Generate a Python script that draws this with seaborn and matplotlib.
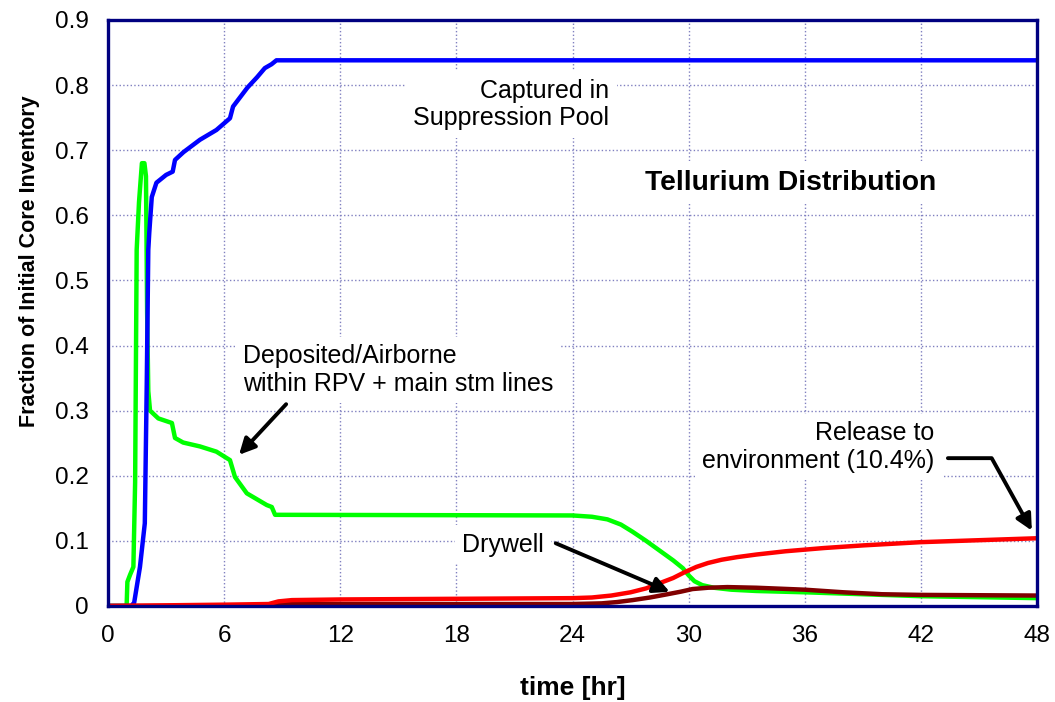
import pandas as pd
import seaborn as sns
import matplotlib.pyplot as plt

# ----------------------------------------
# Data (time in hr, fraction of core inventory)
# ----------------------------------------
pool_t = [0, 1.2, 1.35, 1.65, 1.9, 2.0, 2.08, 2.13, 2.26, 2.5, 3.0, 3.34, 3.46,
          3.9, 4.75, 5.6, 6.3, 6.46, 7.2, 7.7, 8.1, 8.45, 8.7, 48]
pool_v = [0, 0, 0.005, 0.06, 0.127, 0.34, 0.547, 0.573, 0.628, 0.65, 0.662, 0.667,
          0.685, 0.697, 0.716, 0.731, 0.749, 0.767, 0.796, 0.812, 0.826, 0.832,
          0.838, 0.838]

rpv_t = [0, 0.96, 1.0, 1.14, 1.31, 1.4, 1.48, 1.6, 1.75, 1.88, 1.96, 2.02, 2.08,
         2.17, 2.6, 3.3, 3.46, 3.88, 4.75, 5.6, 6.3, 6.56, 7.17, 8.2, 8.46, 8.63,
         24.0, 25.0, 25.8, 26.5, 27.1, 27.8, 28.5, 29.2, 29.7, 30.0, 30.3, 30.7,
         31.3, 32.2, 33.5, 36, 42, 48]
rpv_v = [0, 0, 0.037, 0.048, 0.06, 0.19, 0.547, 0.62, 0.68, 0.68, 0.66, 0.45, 0.33,
         0.30, 0.288, 0.281, 0.258, 0.251, 0.245, 0.237, 0.224, 0.198, 0.173, 0.155,
         0.152, 0.14, 0.139, 0.137, 0.133, 0.125, 0.114, 0.1, 0.085, 0.07, 0.058,
         0.047, 0.038, 0.032, 0.028, 0.025, 0.023, 0.021, 0.015, 0.012]

drywell_t = [0, 8.3, 8.8, 24, 25.5, 26.3, 27.1, 28, 28.9, 29.6, 30.2, 31, 32, 33.5,
             36, 38, 40, 42, 48]
drywell_v = [0, 0, 0.003, 0.003, 0.004, 0.006, 0.009, 0.013, 0.018, 0.022, 0.026,
             0.028, 0.029, 0.028, 0.025, 0.021, 0.018, 0.017, 0.016]

env_t = [0, 6, 8.3, 8.8, 9.5, 12, 18, 24, 25, 26, 27, 27.8, 28.5, 29.2, 29.8, 30.4,
         31, 31.7, 32.5, 33.5, 35, 37, 39, 42, 45, 48]
env_v = [0, 0.002, 0.003, 0.007, 0.009, 0.010, 0.011, 0.012, 0.013, 0.016, 0.021,
         0.027, 0.035, 0.043, 0.052, 0.06, 0.066, 0.071, 0.075, 0.079, 0.084,
         0.089, 0.093, 0.098, 0.101, 0.104]

x_ticks = list(range(0, 49, 6))
y_ticks = [0, 0.1, 0.2, 0.3, 0.4, 0.5, 0.6, 0.7, 0.8, 0.9]
y_labels = ["0", "0.1", "0.2", "0.3", "0.4", "0.5", "0.6", "0.7", "0.8", "0.9"]

series = ["rpv", "pool", "drywell", "env"]
colors = {"rpv": "#00ff00", "pool": "#0000ff", "drywell": "#800000", "env": "#ff0000"}

frames = []
for name, t, v in [("rpv", rpv_t, rpv_v), ("pool", pool_t, pool_v),
                   ("drywell", drywell_t, drywell_v), ("env", env_t, env_v)]:
    frames.append(pd.DataFrame({"time": t, "frac": v, "series": name}))
df = pd.concat(frames, ignore_index=True)

# ----------------------------------------
# Plot
# ----------------------------------------
sns.set_style("white")
plt.rcParams['font.family'] = ['Liberation Sans', 'DejaVu Sans']
plt.rcParams['text.color'] = 'black'
plt.rcParams['axes.labelcolor'] = 'black'

navy = "#000080"
fig = plt.figure(figsize=(10.55, 7.02), dpi=100)
ax = fig.add_axes([0.1024, 0.1368, 0.8806, 0.8348])

sns.lineplot(data=df, x="time", y="frac", hue="series", hue_order=series,
             palette=colors, estimator=None, sort=False, lw=3.2, legend=False, ax=ax)

ax.set_xlim(0, 48)
ax.set_ylim(0, 0.9)
ax.set_xticks(x_ticks)
ax.set_yticks(y_ticks)
ax.set_yticklabels(y_labels)
ax.tick_params(axis="both", direction="out", length=6, width=1.5, color=navy,
               labelsize=17.5, pad=8, labelcolor="black")
ax.grid(True, color="#8080c0", ls=":", lw=1)
ax.set_axisbelow(True)
for sp in ax.spines.values():
    sp.set_color(navy)
    sp.set_linewidth(2.4)
    sp.set_visible(True)

ax.set_xlabel("time [hr]", fontsize=19, fontweight="bold")
ax.set_ylabel("Fraction of Initial Core Inventory", fontsize=15.5, fontweight="bold")
ax.xaxis.set_label_coords(0.5, -0.12)
ax.yaxis.set_label_coords(-0.073, 0.589)

box = dict(boxstyle="square,pad=0.3", fc="white", ec="none")
arrow = dict(arrowstyle="-|>", color="black", lw=2.8, mutation_scale=24)

ax.text(25.9, 0.77, "Captured in\nSuppression Pool", ha="right", va="center",
        fontsize=18, bbox=box, linespacing=1.2)
ax.text(35.25, 0.65, "Tellurium Distribution", ha="center", va="center",
        fontsize=20.3, fontweight="bold", bbox=box)
ax.text(6.95, 0.3625, "Deposited/Airborne\nwithin RPV + main stm lines", ha="left",
        va="center", fontsize=18, bbox=box, linespacing=1.2)
ax.annotate("", xy=(6.67, 0.229), xytext=(9.3, 0.313), arrowprops=arrow)
ax.text(18.3, 0.094, "Drywell", ha="left", va="center", fontsize=18, bbox=box)
ax.annotate("", xy=(29.15, 0.02), xytext=(23.0, 0.098), arrowprops=arrow)
ax.text(42.7, 0.244, "Release to\nenvironment (10.4%)", ha="right", va="center",
        fontsize=18, bbox=box, linespacing=1.2)
ax.annotate("", xy=(47.8, 0.112), xytext=(43.25, 0.227),
            arrowprops=dict(arrow, connectionstyle="angle,angleA=0,angleB=119,rad=0"))

fig.savefig("out.png", dpi=100)
